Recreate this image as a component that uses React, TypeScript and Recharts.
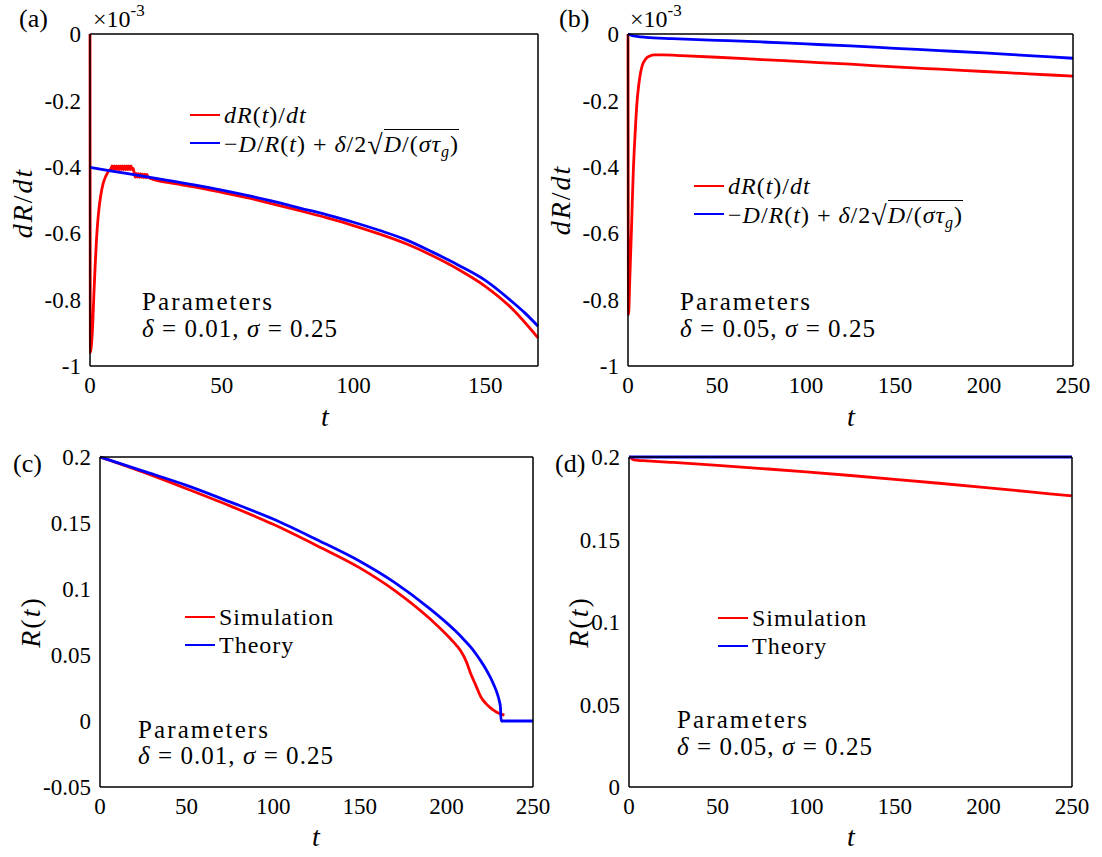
import React from 'react';
import { LineChart, Line, XAxis, YAxis, Legend } from 'recharts';

const SERIF = '"Liberation Serif"';
const RED = '#ff0000';
const BLUE = '#0000ff';

// ---------- Panel (a): dR/dt (x1e-3), delta = 0.01 ----------
const tA_sim = [0, 0.15, 0.5, 1, 1.5, 2, 2.5, 3, 3.5, 4, 5, 6, 7, 8,
  8.4, 8.8, 9.2, 9.6, 10, 10.4, 10.8, 11.2, 11.6, 12, 12.4, 12.8, 13.2, 13.6, 14, 14.4, 14.8, 15.2, 15.6, 16, 16.4,
  16.8, 17.2, 17.6, 18, 18.4, 18.8, 19.2, 19.6, 20, 20.4, 20.8, 21.2, 21.6, 22,
  25, 30, 40, 50, 60, 70, 80, 90, 100, 110, 120, 130, 140, 150, 160, 170];
const dRdtA_sim = [0, -0.96, -0.94, -0.88, -0.78, -0.69, -0.615, -0.56, -0.52, -0.49, -0.45, -0.428, -0.414, -0.405,
  -0.397, -0.409, -0.397, -0.409, -0.397, -0.409, -0.397, -0.409, -0.397, -0.409, -0.397, -0.409, -0.397, -0.409, -0.397, -0.409, -0.397, -0.409, -0.397, -0.409, -0.405,
  -0.42, -0.431, -0.42, -0.431, -0.421, -0.432, -0.421, -0.432, -0.422, -0.433, -0.422, -0.433, -0.423, -0.431,
  -0.44, -0.448, -0.461, -0.477, -0.494, -0.513, -0.533, -0.554, -0.577, -0.603, -0.632, -0.668, -0.71, -0.76, -0.826, -0.915];
const tA_thy = [0, 10, 20, 30, 40, 50, 60, 70, 80, 90, 100, 110, 120, 130, 140, 150, 160, 165, 170];
const dRdtA_thy = [-0.402, -0.415, -0.428, -0.442, -0.455, -0.47, -0.487, -0.505, -0.525, -0.545, -0.567, -0.592, -0.62, -0.657, -0.697, -0.742, -0.805, -0.84, -0.88];

// ---------- Panel (b): dR/dt (x1e-3), delta = 0.05 ----------
const tB_sim = [0, 0.3, 1, 1.5, 2, 2.5, 3, 3.5, 4, 5, 6, 7, 8, 10, 12, 15, 20, 30, 50, 75, 100, 125, 150, 175, 200, 225, 250];
const dRdtB_sim = [0, -0.845, -0.74, -0.66, -0.58, -0.49, -0.41, -0.35, -0.3, -0.21, -0.155, -0.118, -0.095, -0.075, -0.067, -0.063, -0.063, -0.065, -0.07, -0.077, -0.084, -0.091, -0.099, -0.106, -0.113, -0.12, -0.127];
const tB_thy = [0, 2, 5, 10, 25, 50, 75, 100, 125, 150, 175, 200, 225, 250];
const dRdtB_thy = [0, -0.004, -0.007, -0.01, -0.014, -0.019, -0.024, -0.03, -0.036, -0.043, -0.05, -0.057, -0.065, -0.073];

// ---------- Panel (c): R(t), delta = 0.01 ----------
const tC_sim = [0, 10, 25, 50, 75, 100, 125, 150, 170, 190, 200, 203, 206, 209, 211.5, 214, 217, 220, 223, 225.6, 228, 230, 232, 233.5];
const RC_sim = [0.2, 0.1956, 0.1885, 0.176, 0.163, 0.149, 0.133, 0.116, 0.099, 0.078, 0.0655, 0.0614, 0.057, 0.0515, 0.045, 0.036, 0.027, 0.018, 0.013, 0.0098, 0.0075, 0.006, 0.005, 0.0045];
const tC_thy = [0, 10, 25, 50, 75, 100, 125, 150, 170, 190, 200, 205, 210, 215, 219.6, 222.5, 225.4, 227.5, 229.3, 230.5, 231.2, 231.6, 240, 250];
const RC_thy = [0.2, 0.1957, 0.1893, 0.1785, 0.166, 0.153, 0.1375, 0.121, 0.105, 0.0855, 0.0745, 0.0685, 0.0618, 0.0545, 0.046, 0.04, 0.033, 0.027, 0.021, 0.0155, 0.0106, 0, 0, 0];

// ---------- Panel (d): R(t), delta = 0.05 ----------
const tD_sim = [0, 1, 2, 3, 5, 10, 25, 50, 75, 100, 125, 150, 175, 200, 225, 250];
const RD_sim = [0.2, 0.1993, 0.1987, 0.1983, 0.198, 0.1977, 0.1967, 0.1949, 0.193, 0.191, 0.1888, 0.1865, 0.1841, 0.1816, 0.179, 0.1764];
const tD_thy = [0, 125, 250];
const RD_thy = [0.2, 0.2, 0.2];

// ---------- ticks ----------
const xTicksA = [0, 50, 100, 150];
const xTicks250 = [0, 50, 100, 150, 200, 250];
const yTicksDR = [-1, -0.8, -0.6, -0.4, -0.2, 0];
const yTicksC = [-0.05, 0, 0.05, 0.1, 0.15, 0.2];
const yTicksD = [0, 0.05, 0.1, 0.15, 0.2];

const NAME_DR = 'dR(t)/dt';
const NAME_TH = '-D/R(t)+δ/2√(D/(στg))';
const NAME_SIM = 'Simulation';
const NAME_THY = 'Theory';

const pts = (ts: number[], vs: number[]) => ts.map((t, i) => ({ t, v: vs[i] }));

const MATH: Record<string, React.ReactNode> = {
  [NAME_DR]: (
    <span><i>dR</i>(<i>t</i>)/<i>dt</i></span>
  ),
  [NAME_TH]: (
    <span>
      −<i>D</i>/<i>R</i>(<i>t</i>) + <i>δ</i>/2
      <span style={{ fontSize: 28, position: 'relative', top: 2 }}>√</span>
      <span style={{ borderTop: '1.5px solid #000', paddingTop: 1 }}>
        <i>D</i>/(<i>στ</i><i style={{ fontSize: 16, verticalAlign: '-0.3em', lineHeight: 0 }}>g</i>)
      </span>
    </span>
  ),
  [NAME_SIM]: 'Simulation',
  [NAME_THY]: 'Theory',
};

const makeLegend = (names: string[]) => (props: any) => {
  const payload = (props.payload || []).slice().sort(
    (a: any, b: any) => names.indexOf(a.value) - names.indexOf(b.value)
  );
  return (
    <div style={{ fontFamily: SERIF, fontSize: 24, color: '#000', whiteSpace: 'nowrap', letterSpacing: 1 }}>
      {payload.map((e: any) => (
        <div key={e.value} style={{ display: 'flex', alignItems: 'center', height: 28 }}>
          <span style={{ display: 'inline-block', width: 30, height: 0, borderTop: `2.8px solid ${e.color}`, marginRight: 4 }} />
          <span>{MATH[e.value] ?? e.value}</span>
        </div>
      ))}
    </div>
  );
};

type Series = { name: string; color: string; data: { t: number; v: number }[] };
type PanelProps = {
  left: number; top: number; width: number; height: number;
  margin: { top: number; right: number; bottom: number; left: number };
  xDomain: [number, number]; xTicks: number[];
  yDomain: [number, number]; yTicks: number[];
  series: Series[];
  legendLeft: number; legendTop: number;
};

function Panel(p: PanelProps) {
  const axisLine = { stroke: '#000', strokeWidth: 1.5 };
  const tickLine = { stroke: '#000', strokeWidth: 1.5 };
  const tickStyle = { fill: '#000', fontSize: 23, fontFamily: SERIF };
  const names = p.series.map((s) => s.name);
  return (
    <div style={{ position: 'absolute', left: p.left, top: p.top }}>
      <LineChart width={p.width} height={p.height} margin={p.margin} style={{ fontFamily: SERIF }}>
        <XAxis xAxisId="x" type="number" dataKey="t" domain={p.xDomain} ticks={p.xTicks} interval={0}
          height={1} tickLine={false} tickSize={0} tickMargin={11} axisLine={axisLine} tick={tickStyle} />
        <XAxis xAxisId="xb" type="number" dataKey="t" domain={p.xDomain} ticks={p.xTicks} interval={0} allowDataOverflow
          height={1} mirror tick={false} tickSize={5} axisLine={false} tickLine={tickLine} />
        <XAxis xAxisId="xt" orientation="top" type="number" dataKey="t" domain={p.xDomain} ticks={p.xTicks} interval={0} allowDataOverflow
          height={1} mirror tick={false} tickSize={5} axisLine={axisLine} tickLine={tickLine} />
        <YAxis yAxisId="y" type="number" domain={p.yDomain} ticks={p.yTicks} interval={0}
          width={1} tickLine={false} tickSize={0} tickMargin={9} axisLine={axisLine} tick={tickStyle}
          tickFormatter={(v: number) => String(v)} />
        <YAxis yAxisId="yl" type="number" domain={p.yDomain} ticks={p.yTicks} interval={0} allowDataOverflow
          width={1} mirror tick={false} tickSize={5} axisLine={false} tickLine={tickLine} />
        <YAxis yAxisId="yr" orientation="right" type="number" domain={p.yDomain} ticks={p.yTicks} interval={0} allowDataOverflow
          width={1} mirror tick={false} tickSize={5} axisLine={axisLine} tickLine={tickLine} />
        {p.series.map((s) => (
          <Line key={s.name} xAxisId="x" yAxisId="y" data={s.data} dataKey="v" name={s.name}
            type="monotone" stroke={s.color} strokeWidth={2.8} dot={false} activeDot={false}
            isAnimationActive={false} />
        ))}
        <Legend layout="vertical" verticalAlign="middle" align="center" content={makeLegend(names)}
          wrapperStyle={{ left: p.legendLeft, top: p.legendTop, width: 'auto', height: 'auto' }} />
      </LineChart>
    </div>
  );
}

function Overlay() {
  const T = { fontFamily: SERIF, fill: '#000' } as const;
  const params = (x: number, y1: number, y2: number, d: string) => (
    <g>
      <text x={x} y={y1} fontSize={25} textLength={130} lengthAdjust="spacing" {...T}>Parameters</text>
      <text x={x} y={y2} fontSize={25} textLength={195} lengthAdjust="spacing" {...T}>
        <tspan fontStyle="italic">δ</tspan> = {d}, <tspan fontStyle="italic">σ</tspan> = 0.25
      </text>
    </g>
  );
  const times = (x: number, y: number) => (
    <text x={x} y={y} fontSize={24} {...T}>×10<tspan dy={-11} fontSize={17}>-3</tspan></text>
  );
  const ylab = (x: number, y: number, node: React.ReactNode) => (
    <text x={x} y={y} fontSize={28} letterSpacing={2} textAnchor="middle" transform={`rotate(-90, ${x}, ${y})`} {...T}>{node}</text>
  );
  const dRdt = (<><tspan fontStyle="italic">dR</tspan>/<tspan fontStyle="italic">dt</tspan></>);
  const Rt = (<><tspan fontStyle="italic">R</tspan>(<tspan fontStyle="italic">t</tspan>)</>);
  const tlab = (x: number, y: number) => (
    <text x={x} y={y} fontSize={28} fontStyle="italic" textAnchor="middle" {...T}>t</text>
  );
  return (
    <svg width={1102} height={857} style={{ position: 'absolute', left: 0, top: 0, pointerEvents: 'none' }}>
      <text x={19} y={27} fontSize={26} {...T}>(a)</text>
      <text x={559} y={27} fontSize={26} {...T}>(b)</text>
      <text x={13} y={472} fontSize={26} {...T}>(c)</text>
      <text x={555} y={472} fontSize={26} {...T}>(d)</text>
      {times(93, 27)}
      {times(630, 27)}
      {ylab(32, 203, dRdt)}
      {ylab(570, 200, dRdt)}
      {ylab(40, 622, Rt)}
      {ylab(588, 622, Rt)}
      {tlab(325, 426)}
      {tlab(851, 426)}
      {tlab(316, 846)}
      {tlab(851, 846)}
      {params(142, 310, 337, '0.01')}
      {params(680, 310, 337, '0.05')}
      {params(138, 738, 764, '0.01')}
      {params(677, 728, 755, '0.05')}
    </svg>
  );
}

export default function App() {
  return (
    <div style={{ position: 'absolute', left: 0, top: 0, width: 1102, height: 857, background: '#fff', overflow: 'hidden', fontFamily: SERIF }}>
      <Panel left={0} top={0} width={551} height={428}
        margin={{ top: 34, left: 89, right: 13, bottom: 61 }}
        xDomain={[0, 170]} xTicks={xTicksA} yDomain={[-1, 0]} yTicks={yTicksDR}
        series={[
          { name: NAME_DR, color: RED, data: pts(tA_sim, dRdtA_sim) },
          { name: NAME_TH, color: BLUE, data: pts(tA_thy, dRdtA_thy) },
        ]}
        legendLeft={190} legendTop={101} />
      <Panel left={551} top={0} width={551} height={428}
        margin={{ top: 34, left: 76, right: 29, bottom: 61 }}
        xDomain={[0, 250]} xTicks={xTicks250} yDomain={[-1, 0]} yTicks={yTicksDR}
        series={[
          { name: NAME_DR, color: RED, data: pts(tB_sim, dRdtB_sim) },
          { name: NAME_TH, color: BLUE, data: pts(tB_thy, dRdtB_thy) },
        ]}
        legendLeft={143} legendTop={172} />
      <Panel left={0} top={428} width={551} height={429}
        margin={{ top: 29, left: 99, right: 18, bottom: 69 }}
        xDomain={[0, 250]} xTicks={xTicks250} yDomain={[-0.05, 0.2]} yTicks={yTicksC}
        series={[
          { name: NAME_SIM, color: RED, data: pts(tC_sim, RC_sim) },
          { name: NAME_THY, color: BLUE, data: pts(tC_thy, RC_thy) },
        ]}
        legendLeft={185} legendTop={175} />
      <Panel left={551} top={428} width={551} height={429}
        margin={{ top: 29, left: 77, right: 30, bottom: 69 }}
        xDomain={[0, 250]} xTicks={xTicks250} yDomain={[0, 0.2]} yTicks={yTicksD}
        series={[
          { name: NAME_SIM, color: RED, data: pts(tD_sim, RD_sim) },
          { name: NAME_THY, color: BLUE, data: pts(tD_thy, RD_thy) },
        ]}
        legendLeft={167} legendTop={176} />
      <Overlay />
    </div>
  );
}
